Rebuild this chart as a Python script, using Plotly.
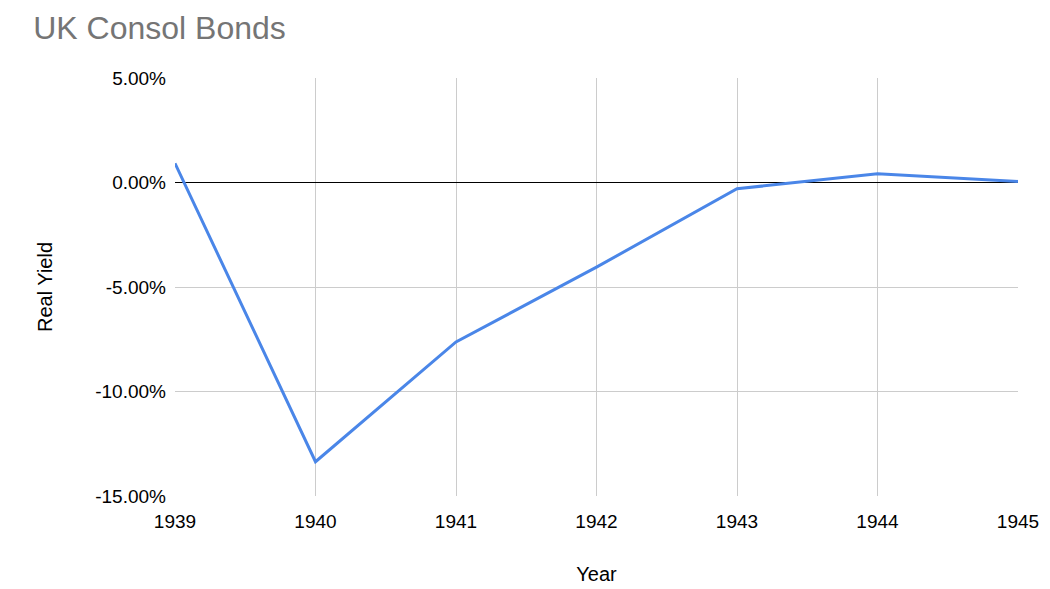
import plotly.graph_objects as go

years = [1939, 1940, 1941, 1942, 1943, 1944, 1945]
real_yield = [0.0092, -0.1336, -0.0763, -0.0405, -0.0030, 0.0042, 0.0005]
y_tickvals = [-0.15, -0.10, -0.05, 0.0, 0.05]
y_ticktext = ["-15.00%", "-10.00%", "-5.00%", "0.00%", "5.00%"]

fig = go.Figure()
fig.add_trace(go.Scatter(
    x=years, y=real_yield, mode="lines",
    line=dict(color="#4a86e8", width=3),
    showlegend=False, cliponaxis=False,
))

fig.update_layout(
    width=1050, height=589,
    paper_bgcolor="white", plot_bgcolor="white",
    margin=dict(l=167, r=40, t=70, b=101),
    title=dict(text="UK Consol Bonds", x=0.024, xanchor="left", y=0.967, yanchor="middle",
               font=dict(family="Liberation Sans, Arial", size=32, color="#757575")),
    font=dict(family="Liberation Sans, Arial", size=19, color="#000000"),
    xaxis=dict(
        range=[1939, 1945], tickmode="array", tickvals=years,
        ticktext=[str(y) for y in years],
        showgrid=True, gridcolor="#cccccc", gridwidth=1,
        zeroline=False, showline=False, ticks="",
        ticklabelstandoff=12,
        title=dict(text="Year", font=dict(size=20), standoff=35),
        tickfont=dict(size=19),
    ),
    yaxis=dict(
        range=[-0.15, 0.05], tickmode="array", tickvals=y_tickvals, ticktext=y_ticktext,
        showgrid=True, gridcolor="#cccccc", gridwidth=1,
        zeroline=True, zerolinecolor="#000000", zerolinewidth=1,
        showline=False, ticks="",
        ticklabelstandoff=8,
        title=dict(text="Real Yield", font=dict(size=20), standoff=37),
        tickfont=dict(size=19),
    ),
)

fig.write_html("out.html")
